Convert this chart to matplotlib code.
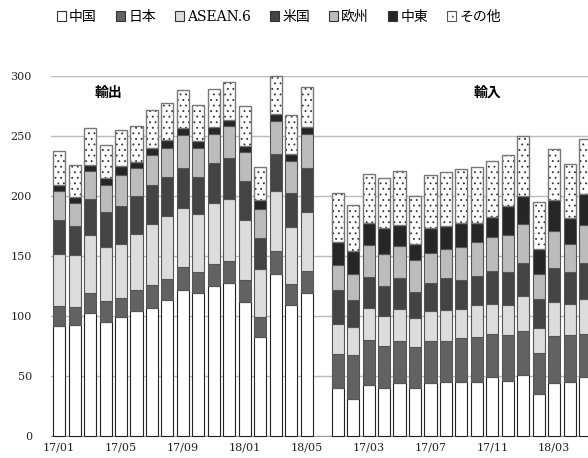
import numpy as np
import matplotlib
matplotlib.use("Agg")
import matplotlib.pyplot as plt
from matplotlib.patches import Patch

plt.rcParams['font.family'] = ['DejaVu Serif', 'Noto Sans CJK JP']
plt.rcParams['hatch.linewidth'] = 0.6

# 月ラベル (17/01 - 18/05)
months = ['17/01', '17/02', '17/03', '17/04', '17/05', '17/06', '17/07', '17/08', '17/09',
          '17/10', '17/11', '17/12', '18/01', '18/02', '18/03', '18/04', '18/05']

regions = ['中国', '日本', 'ASEAN.6', '米国', '欧州', '中東', 'その他']

# 輸出 (各地域の値)
exp_china = [91, 92.5, 102, 95, 99, 103.5, 106, 113, 121.5, 118.5, 124.5, 127.5, 111, 82.5, 134.5, 108.5, 118.5]
exp_japan = [17, 14.5, 17, 17.5, 15.5, 18, 19.5, 17.5, 19, 17.5, 18.5, 18, 19, 16, 19.5, 18, 19]
exp_asean = [43.5, 43.5, 48.5, 44.5, 45, 46.5, 51, 52.5, 49, 49, 51, 51.5, 50, 40, 49.5, 47, 49]
exp_us = [28.5, 24, 29.5, 29, 32, 31.5, 32.5, 32.5, 33.5, 30.5, 33.5, 34, 32, 26.5, 31, 29, 36.5]
exp_eu = [23.5, 19.5, 23.5, 22.5, 26, 23.5, 25, 24.5, 27.5, 24, 24, 27, 24, 23.5, 27.5, 26.5, 28]
exp_me = [5, 5, 5, 6, 7.5, 5, 6, 6, 5.5, 6, 6, 5, 5.5, 8, 6, 5.5, 6]
exp_other = [28.5, 26.5, 30.5, 28, 29.5, 30, 31, 31, 32, 30, 31, 32, 33, 27, 32, 32.5, 33.5]

# 輸入
imp_china = [39.5, 30.5, 42.5, 39.5, 44, 39.5, 43.5, 44.5, 45, 45, 49, 45.5, 50.5, 34.5, 43.5, 45, 49]
imp_japan = [28.5, 37, 37, 35, 35, 34.5, 35.5, 34.5, 36, 37, 35.5, 38.5, 37, 34.5, 39.5, 39, 36]
imp_asean = [25, 23, 27, 25.5, 26.5, 24, 24.5, 25.5, 24.5, 26.5, 25.5, 25, 29, 20.5, 28.5, 25.5, 29]
imp_us = [28.5, 22.5, 26, 25, 25.5, 22, 23.5, 27, 24.5, 24.5, 27.5, 27.5, 27, 24.5, 28.5, 27, 30]
imp_eu = [21, 22, 26, 26.5, 27, 26, 25.5, 24, 27.5, 28, 28, 31, 33, 21, 30.5, 23.5, 31.5]
imp_me = [18.5, 18.5, 19, 21.5, 17.5, 14, 20.5, 19, 20, 16, 17, 24, 23.5, 20.5, 25.5, 21.5, 26]
imp_other = [41.5, 39, 40.5, 42, 45, 40, 44, 45.5, 44.5, 46.5, 46.5, 42.5, 49.5, 39, 43, 45, 45.5]

tick_idx = [0, 4, 8, 12, 16, 20, 24, 28, 32]
tick_labels = ['17/01', '17/05', '17/09', '18/01', '18/05', '17/03', '17/07', '17/11', '18/03']

colors = ['white', '#626262', '#dcdcdc', '#444444', '#bcbcbc', '#262626', 'white']

n = len(months)
x_exp = np.arange(n)
x_imp = np.arange(n) + n + 1
width = 0.78

fig = plt.figure(figsize=(5.88, 4.58), dpi=100)
# 元の図は右側が切れているので、軸を図の外まで伸ばす
ax = fig.add_axes([51.4 / 588, 22.5 / 458, 557 / 588, 360 / 458])


def draw_stack(x, series):
    bottom = np.zeros(len(x))
    for i, vals in enumerate(series):
        vals = np.array(vals, dtype=float)
        if i == len(series) - 1:
            ax.bar(x, vals, width, bottom=bottom, color='white', edgecolor='#333333',
                   linewidth=0, hatch='...', zorder=3, clip_on=False)
            ax.bar(x, vals, width, bottom=bottom, fill=False, edgecolor='#777777',
                   linewidth=1.0, zorder=4, clip_on=False)
        else:
            ec = '#222222' if i == 0 else '#555555'
            ax.bar(x, vals, width, bottom=bottom, color=colors[i], edgecolor=ec,
                   linewidth=0.8, zorder=3, clip_on=False)
        bottom += vals


draw_stack(x_exp, [exp_china, exp_japan, exp_asean, exp_us, exp_eu, exp_me, exp_other])
draw_stack(x_imp, [imp_china, imp_japan, imp_asean, imp_us, imp_eu, imp_me, imp_other])

ax.set_xlim(-0.5, 2 * n + 1.5)
ax.set_ylim(0, 300)
ax.set_yticks(range(0, 301, 50))
ax.set_xticks(tick_idx)
ax.set_xticklabels(tick_labels)
ax.tick_params(axis='both', length=0, labelsize=8, colors='#222222')
ax.tick_params(axis='y', pad=14)
ax.tick_params(axis='x', pad=5)
ax.yaxis.grid(True, color='#bbbbbb', linewidth=1.0, zorder=0)
ax.set_axisbelow(True)
for side in ['top', 'right', 'left']:
    ax.spines[side].set_visible(False)
ax.spines['bottom'].set_color('#999999')

ax.text(3.2, 285.5, '輸出', ha='center', va='center', fontsize=10, fontweight='bold')
ax.text(27.7, 286, '輸入', ha='center', va='center', fontsize=10, fontweight='bold')

handles = []
for i, name in enumerate(regions):
    if i == len(regions) - 1:
        handles.append(Patch(facecolor='white', edgecolor='#555555', hatch='...', linewidth=0.8, label=name))
    else:
        handles.append(Patch(facecolor=colors[i], edgecolor='#333333', linewidth=0.8, label=name))

fig.legend(handles=handles, loc='center', bbox_to_anchor=(0.474, 0.963), ncol=7,
           frameon=False, fontsize=10, handlelength=0.7, handleheight=0.7,
           handletextpad=0.2, columnspacing=1.35, borderpad=0)

fig.savefig('out.png', dpi=100)
